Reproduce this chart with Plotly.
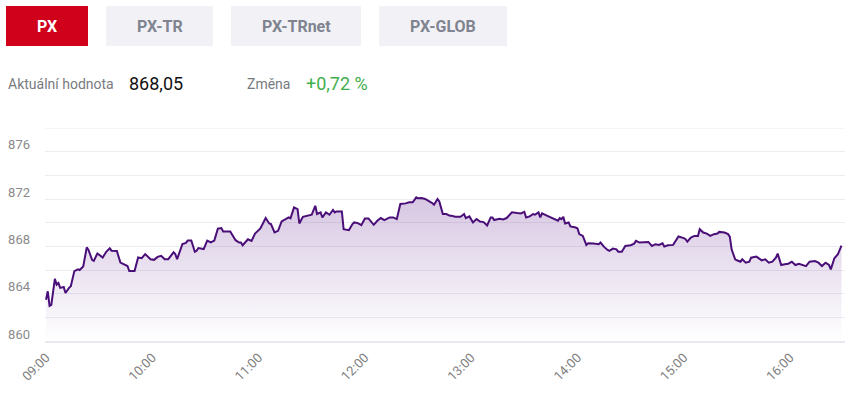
import plotly.graph_objects as go
import pandas as pd

# ---- data ----
trade_date = "2024-01-01"
minutes_after_open = [
    0, 1, 2, 3, 5, 6, 7, 8, 10, 11, 13, 14, 16, 18, 19, 21, 23, 24, 26, 27,
    29, 30, 32, 34, 36, 37, 40, 42, 44, 46, 47, 50, 52, 54, 56, 59, 61, 63, 65, 67,
    69, 72, 73, 74, 77, 79, 80, 82, 84, 85, 86, 89, 91, 93, 95, 97, 99, 100, 104,
    107, 109, 110, 111, 114, 116, 118, 121, 124, 126, 127, 129, 131, 133, 135, 137, 138,
    140, 142, 143, 145, 147, 150, 152, 153, 155, 156, 158, 160, 162, 163, 164, 167, 168,
    171, 173, 174, 176, 178, 180, 182, 185, 187, 189, 191,
    194, 196, 198, 200, 203, 205, 207, 209, 210, 212, 214, 216, 218, 219, 221, 222, 224,
    226, 228, 229, 231, 234, 236, 237, 239, 241, 243, 245, 247, 249, 251, 252, 253, 256,
    258, 260, 263, 266, 268, 270, 271, 273, 275,
    276, 278, 279, 280, 283, 285, 287, 289, 290, 291, 292, 293, 295, 296, 299, 300, 301,
    303, 305, 306, 309, 312, 313, 315, 317, 318, 320, 322, 323, 325, 327, 330, 332, 333,
    335, 338, 340, 342, 344, 346, 348, 349, 351, 354, 355, 357, 360,
    361, 362, 364, 366, 368, 369, 371, 373, 375, 377, 379, 380, 383, 385, 386, 387, 389,
    390, 392, 393, 395, 397, 398, 401, 402, 404, 406, 408, 410, 412, 413, 414, 415, 417,
    419, 421, 423, 425, 427, 429, 431, 434, 436, 438, 440, 442, 443, 445, 447, 449,
]
px_values = [
    863.49, 864.20, 862.97, 863.06, 865.26, 864.77, 864.91, 864.49, 864.57, 864.06,
    864.49, 864.63, 865.91, 866.06, 866.00, 866.29, 867.91, 867.69, 866.86, 866.77,
    867.40, 867.26, 867.06, 867.54, 867.83, 867.63, 867.60, 866.63, 866.49, 866.34,
    865.91, 865.91, 867.06, 867.00, 867.34, 866.91, 866.86, 867.11, 867.20, 866.91,
    866.91, 867.49, 867.34, 866.91, 868.20, 868.29, 868.49, 868.49, 867.54, 867.63,
    867.86, 867.77, 868.49, 868.34, 868.49, 869.49, 869.54, 869.26, 869.26,
    868.52, 868.32, 868.32, 868.09, 868.60, 868.46, 869.08, 869.51, 870.39, 869.93,
    869.88, 869.17, 869.31, 870.10, 870.30, 870.44, 870.36,
    871.29, 871.15, 869.93, 870.50, 870.58, 870.67, 871.43, 870.73, 870.87, 870.44,
    870.87, 870.67, 871.07, 870.87, 870.95, 870.95, 869.45,
    869.37, 869.88, 870.02, 869.96, 869.79, 870.36, 870.36, 869.82, 870.16, 870.39, 870.22,
    870.44, 870.44, 870.30, 871.58, 871.63, 871.72, 871.72, 872.14, 872.06, 872.08,
    872.00, 871.86, 871.66, 871.52, 872.00, 871.80, 870.73,
    870.73, 870.58, 870.58, 870.50, 870.50, 870.73, 870.39, 870.53, 870.02, 870.30,
    870.10, 870.05, 869.76, 870.44, 870.44, 870.22, 870.33,
    870.27, 870.39, 870.87, 870.81, 870.78, 870.92, 870.44, 870.53, 870.73,
    870.67, 870.87, 870.44, 870.78, 870.58, 870.44, 870.30, 870.16, 870.39, 870.30,
    870.50, 869.93, 870.02, 869.68, 869.59, 869.51, 869.03,
    868.88, 868.12, 868.26, 868.23, 868.18, 868.32, 867.95, 867.69, 867.61, 867.81,
    867.75, 867.55, 867.55, 868.03, 868.09, 868.23, 868.46,
    868.32, 868.32, 868.37, 868.03, 868.18, 868.12, 868.26, 867.98, 868.09, 868.12,
    868.40, 868.83, 868.69,
    868.60, 868.40, 868.74, 868.88, 868.88, 869.45, 869.17, 869.08, 868.88, 869.03,
    869.08, 869.22, 869.17, 869.03, 868.80, 867.75, 866.90,
    866.82, 866.70, 866.90, 866.62, 866.70, 867.04, 867.13, 867.04, 866.82, 866.90,
    866.62, 866.70, 867.04, 867.38, 866.90, 866.42, 866.48,
    866.53, 866.70, 866.42, 866.53, 866.42, 866.33, 866.70, 866.76, 866.62, 866.33,
    866.62, 866.42, 866.05, 866.99, 867.33, 868.05,
]
y_tick_values = [860, 862, 864, 866, 868, 870, 872, 874, 876, 878]
y_tick_labels = ["860", "", "864", "", "868", "", "872", "", "876", ""]
index_tabs = ["PX", "PX-TR", "PX-TRnet", "PX-GLOB"]
current_label = "Aktuální hodnota"
current_value = "868,05"
change_label = "Změna"
change_value = "+0,72 %"

# ---- build ----
base = pd.Timestamp(f"{trade_date} 09:00:00")
times = [(base + pd.Timedelta(minutes=m)).strftime("%Y-%m-%d %H:%M:%S") for m in minutes_after_open]

W, H = 845, 397
ML, MR, MT, MB = 45, 0, 128, 56
PW, PH = W - ML - MR, H - MT - MB
GRID = "#ececf1"


def fx(px):
    return (px - ML) / PW


def fy(py):
    return (H - MB - py) / PH


FONT = "Roboto, 'Open Sans', Arial, sans-serif"
fig = go.Figure()
fig.add_trace(go.Scatter(
    x=times, y=px_values, mode="lines",
    line=dict(color="#4a0e78", width=2),
    fill="tozeroy",
    fillgradient=dict(
        type="vertical",
        colorscale=[[0, "rgba(110,50,150,0.0)"], [1, "rgba(110,50,150,0.27)"]],
        start=860, stop=872,
    ),
    hoverinfo="skip",
))

shapes = [dict(
    type="line", xref="paper", yref="y", x0=0, x1=1,
    y0=y_tick_values[-1], y1=y_tick_values[-1],
    line=dict(color=GRID, width=1), layer="below",
)]
annotations = []
tab_boxes = [(6, 88), (106, 213), (231, 361), (379, 507)]
for i, (name, (x0, x1)) in enumerate(zip(index_tabs, tab_boxes)):
    active = i == 0
    shapes.append(dict(
        type="rect", xref="paper", yref="paper",
        x0=fx(x0), x1=fx(x1), y0=fy(46), y1=fy(6),
        fillcolor="#d0011b" if active else "#f2f2f6", line=dict(width=0), layer="above",
    ))
    annotations.append(dict(
        text=f"<b>{name}</b>", xref="paper", yref="paper",
        x=fx((x0 + x1) / 2), y=fy(26), xanchor="center", yanchor="middle", showarrow=False,
        font=dict(family=FONT, size=16, color="#ffffff" if active else "#7f8490"),
    ))

row_y = fy(84)
annotations += [
    dict(text=current_label, xref="paper", yref="paper", x=fx(6), y=row_y,
         xanchor="left", yanchor="middle", showarrow=False,
         font=dict(family=FONT, size=14, color="#777b80")),
    dict(text=current_value, xref="paper", yref="paper", x=fx(127), y=row_y,
         xanchor="left", yanchor="middle", showarrow=False,
         font=dict(family=FONT, size=18, color="#111111")),
    dict(text=change_label, xref="paper", yref="paper", x=fx(245), y=row_y,
         xanchor="left", yanchor="middle", showarrow=False,
         font=dict(family=FONT, size=14, color="#777b80")),
    dict(text=change_value, xref="paper", yref="paper", x=fx(304), y=row_y,
         xanchor="left", yanchor="middle", showarrow=False,
         font=dict(family=FONT, size=18, color="#3fae4a")),
]

fig.update_layout(
    width=W, height=H,
    margin=dict(l=ML, r=MR, t=MT, b=MB, pad=0),
    paper_bgcolor="#ffffff", plot_bgcolor="#ffffff",
    showlegend=False,
    shapes=shapes, annotations=annotations,
    font=dict(family=FONT),
    xaxis=dict(
        type="date",
        range=[f"{trade_date} 08:59:26", f"{trade_date} 16:31:00"],
        tick0=f"{trade_date} 09:00:00", dtick=3600000, tickformat="%H:%M",
        tickangle=-45, showgrid=False, zeroline=False,
        showline=True, linecolor="#e9e8f1", linewidth=2,
        ticks="", tickfont=dict(family=FONT, size=13, color="#808080"),
        ticklabelstandoff=2,
        fixedrange=True,
    ),
    yaxis=dict(
        range=[860, 878], tickvals=y_tick_values, ticktext=y_tick_labels,
        showgrid=True, gridcolor=GRID, gridwidth=1,
        zeroline=False, showline=False, ticks="",
        ticklabelposition="outside", ticklabelshift=-7, ticklabelstandoff=14,
        tickfont=dict(family=FONT, size=13, color="#8a8a8a"),
        fixedrange=True,
    ),
)

fig.write_html(
    "out.html",
    config={"displayModeBar": False},
    post_script="document.body.style.margin='0';document.body.style.overflow='hidden';",
)
